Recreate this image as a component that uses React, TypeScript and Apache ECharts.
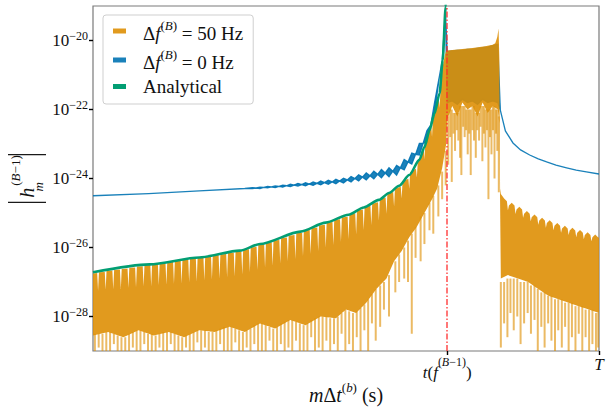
import React, { useEffect, useRef } from 'react';
import * as echarts from 'echarts';

// ---------- data (x = sample index m, T = 200 samples; y = log10 |h|) ----------
const sampleCountT = 200;
const tIndex = 140; // t(f^(B-1))
const yMinExp = -29;
const yMaxExp = -19;
const yTickExps = [-28, -26, -24, -22, -20];
const xTickValues = [140, 200];
const xTickLabels = ['{i|t}{n|(}{i|f}{s|(}{si|B}{s|−1)}{n|)}', '{T|T}'];

const seriesNames = ['Δf(B) = 50 Hz', 'Δf(B) = 0 Hz', 'Analytical'];
const legendLabels = [
  '{n|Δ}{i|f}{s|(}{si|B}{s|)}{n| = 50 Hz}',
  '{n|Δ}{i|f}{s|(}{si|B}{s|)}{n| = 0 Hz}',
  '{n|Analytical}',
];

// Δf = 50 Hz : upper envelope [m, log10|h|] (lobes with narrow nulls)
const orangeTop = [
  [0, -26.75],
  [1.65, -26.74], [2, -27.25], [2.35, -26.72], [4.65, -26.71], [5, -27.22], [5.35, -26.68],
  [7.65, -26.67], [8, -27.21], [8.35, -26.65], [10.65, -26.64], [11, -27.2], [11.35, -26.62],
  [13.65, -26.61], [14, -27.17], [14.35, -26.59], [16.65, -26.58], [17, -27.15], [17.35, -26.55],
  [19.65, -26.54], [20, -27.12], [20.35, -26.52], [22.65, -26.51], [23, -27.12], [23.35, -26.49],
  [25.65, -26.48], [26, -27.09], [26.35, -26.46], [28.65, -26.45], [29, -27.08], [29.35, -26.42],
  [31.65, -26.41], [32, -27.05], [32.35, -26.39], [34.65, -26.38], [35, -27.04], [35.35, -26.36],
  [37.65, -26.35], [38, -27.01], [38.35, -26.33], [40.65, -26.32], [41, -26.99], [41.35, -26.29],
  [43.65, -26.28], [44, -26.96], [44.35, -26.26], [46.65, -26.25], [47, -26.93], [47.35, -26.23],
  [49.65, -26.22], [50, -26.9], [50.35, -26.2], [52.65, -26.19], [53, -26.86], [53.35, -26.16],
  [55.65, -26.15], [56, -26.83], [56.35, -26.13], [58.65, -26.12], [59, -26.79], [59.35, -26.07],
  [61.65, -26.05], [62, -26.72], [62.35, -26.0], [64.65, -25.98], [65, -26.65], [65.35, -25.93],
  [67.65, -25.91], [68, -26.58], [68.35, -25.87], [70.65, -25.85], [71, -26.53], [71.35, -25.8],
  [73.65, -25.78], [74, -26.46], [74.35, -25.73], [76.65, -25.71], [77, -26.4], [77.35, -25.66],
  [79.65, -25.64], [80, -26.33], [80.35, -25.59], [82.65, -25.57], [83, -26.25], [83.35, -25.51],
  [85.65, -25.49], [86, -26.18], [86.35, -25.44], [88.65, -25.42], [89, -26.1], [89.35, -25.36],
  [91.65, -25.34], [92, -26.0], [92.35, -25.28], [94.65, -25.26], [95, -25.93], [95.35, -25.2],
  [97.65, -25.18], [98, -25.83], [98.35, -25.13], [100.65, -25.11], [101, -25.75], [101.35, -25.04],
  [103.65, -25.01], [104, -25.62], [104.35, -24.93], [106.65, -24.9], [107, -25.49], [107.35, -24.83],
  [109.65, -24.79], [110, -25.35], [110.35, -24.73], [112.65, -24.69], [113, -25.22], [113.35, -24.6],
  [115.65, -24.55], [116, -25.02], [116.35, -24.44], [118.65, -24.39], [119, -24.81], [119.35, -24.29],
  [121.65, -24.24], [122, -24.58], [122.35, -24.08], [124.65, -24.01], [125, -24.3], [125.35, -23.82],
  [127.65, -23.72], [128, -23.97], [128.35, -23.55],
  [129, -23.46], [130, -23.28], [130.7, -23.1], [131, -23.45], [131.3, -23.0], [132, -22.86],
  [133, -22.64], [133.7, -22.45], [134, -22.8], [134.3, -22.35], [135, -22.13], [136, -21.85],
  [136.7, -21.7], [137, -21.95], [137.3, -21.5], [138, -20.85], [139, -20.45], [139.6, -20.3],
  [140, -20.29], [145, -20.25], [150, -20.22], [155, -20.17], [157, -20.14], [158, -20.12],
  [159, -20.08], [159.8, -19.9], [160.3, -19.65], [160.6, -20.5], [160.9, -24.3],
  [161.2, -24.45], [162.5, -24.58], [163.6, -24.66], [164, -24.92], [164.4, -24.78], [165.5, -24.7],
  [166.6, -24.78], [167, -25.03], [167.4, -24.9], [168.5, -24.82], [169.6, -24.9], [170, -25.14],
  [170.4, -25.02], [171.5, -24.94], [172.6, -25.02], [173, -25.24], [173.4, -25.12], [174.5, -25.04],
  [175.6, -25.12], [176, -25.34], [176.4, -25.22], [177.5, -25.14], [178.6, -25.22], [179, -25.43],
  [179.4, -25.29], [180.5, -25.21], [181.6, -25.29], [182, -25.5], [182.4, -25.37], [183.5, -25.29],
  [184.6, -25.37], [185, -25.57], [185.4, -25.45], [186.5, -25.37], [187.6, -25.45], [188, -25.64],
  [188.4, -25.51], [189.5, -25.43], [190.6, -25.51], [191, -25.7], [191.4, -25.57], [192.5, -25.49],
  [193.6, -25.57], [194, -25.76], [194.4, -25.64], [195.5, -25.56], [196.6, -25.64], [197, -25.82],
  [197.4, -25.7], [198.5, -25.62], [199.6, -25.7], [200, -25.72],
];
// Δf = 50 Hz : lower edge of the solid band [m, log10|h|]
const orangeBase = [
  [0, -28.55], [6, -28.45], [12, -28.6], [18, -28.4], [24, -28.55], [30, -28.45], [36, -28.6],
  [42, -28.4], [48, -28.45], [54, -28.3], [60, -28.45], [66, -28.2], [72, -28.35], [78, -28.1],
  [84, -28.25], [90, -28.0], [96, -28.05], [100, -27.8], [104, -27.9], [108, -27.6], [112, -27.2],
  [116, -26.9], [119, -26.4], [122, -26.1], [125, -25.7], [128, -25.4], [131, -25.0], [134, -24.6],
  [136, -24.3], [138, -23.7], [139.6, -23.0],
  [140, -22.3], [142, -21.9], [144, -22.2], [146, -21.8], [148, -22.0], [150, -21.9], [152, -22.2],
  [154, -21.8], [156, -22.1], [158, -21.9], [160, -22.0], [160.6, -22.4],
  [161.2, -26.9], [164, -26.8], [168, -26.9], [172, -27.0], [176, -27.2], [180, -27.4], [184, -27.5],
  [188, -27.6], [192, -27.7], [196, -27.8], [200, -27.9],
];
// Δf = 50 Hz : thin strands below the solid band [m, from, to]
const orangeStrands = [
  [0.75, -28.5, -29.2], [2.25, -28.5, -28.9], [3.75, -28.5, -29.2], [5.25, -28.45, -29.0], [6.75, -28.45, -29.2],
  [8.25, -28.5, -28.8], [9.75, -28.55, -29.1], [11.25, -28.6, -29.2], [12.75, -28.6, -29.0], [14.25, -28.5, -29.2],
  [15.75, -28.45, -28.9], [17.25, -28.4, -29.2], [18.75, -28.4, -29.05], [20.25, -28.45, -28.8], [21.75, -28.5, -29.2],
  [23.25, -28.5, -29.0], [24.75, -28.55, -29.2], [26.25, -28.5, -28.9], [27.75, -28.45, -29.2], [29.25, -28.45, -29.05],
  [30.75, -28.45, -28.8], [32.25, -28.5, -29.2], [33.75, -28.55, -29.0], [35.25, -28.6, -29.2], [36.75, -28.55, -28.9],
  [38.25, -28.5, -29.2], [39.75, -28.45, -29.05], [41.25, -28.4, -28.75], [42.75, -28.4, -29.2], [44.25, -28.4, -28.9],
  [45.75, -28.45, -29.2], [47.25, -28.45, -29.0], [48.75, -28.4, -29.2], [50.25, -28.35, -28.8], [51.75, -28.3, -29.2],
  [53.25, -28.3, -29.0], [54.75, -28.3, -29.2], [56.25, -28.35, -28.75], [57.75, -28.4, -29.1], [59.25, -28.45, -29.2],
  [60.75, -28.4, -28.9], [62.25, -28.35, -29.2], [63.75, -28.25, -28.8], [65.25, -28.2, -29.2], [66.75, -28.2, -29.0],
  [68.25, -28.25, -29.2], [69.75, -28.3, -28.7], [71.25, -28.35, -29.1], [72.75, -28.3, -29.2], [74.25, -28.2, -28.8],
  [75.75, -28.15, -29.2], [77.25, -28.1, -28.9], [78.75, -28.1, -29.2], [80.25, -28.15, -28.7], [81.75, -28.2, -29.2],
  [83.25, -28.25, -29.0], [84.75, -28.2, -29.2], [86.25, -28.1, -28.6], [87.75, -28.05, -29.2], [89.25, -28.0, -28.9],
  [90.75, -28.0, -29.2], [92.25, -28.0, -28.7], [93.75, -28.05, -29.1], [95.25, -28.05, -28.8], [96.75, -28.0, -29.2],
  [98.25, -27.9, -28.5], [99.75, -27.8, -29.2], [101.25, -27.85, -28.8], [102.75, -27.9, -29.2], [104.25, -27.85, -28.6],
  [105.75, -27.75, -29.0], [107.25, -27.65, -28.4], [108.75, -27.5, -29.2], [110.25, -27.35, -28.2], [111.75, -27.2, -28.7],
  [113.5, -27.1, -28.3], [115, -27.0, -27.8], [117, -26.8, -28.0], [119.5, -26.4, -27.3], [121, -26.2, -27.0],
  [123, -26.0, -26.9], [124.5, -25.8, -27.0], [126, -25.6, -28.5], [127.5, -25.4, -26.3], [129.5, -25.1, -26.4],
  [131, -25.0, -25.9], [133, -24.7, -25.5], [134.5, -24.5, -25.6], [136.5, -24.2, -25.1], [138, -23.8, -24.6],
  [139.4, -23.2, -24.2],
  [140.4, -22.2, -23.6], [141.2, -22.0, -22.8], [141.8, -22.0, -24.1], [142.5, -22.1, -22.7], [143.1, -22.1, -23.2],
  [143.8, -22.1, -22.6], [144.4, -22.1, -22.9], [145.1, -21.9, -23.4], [145.6, -21.9, -23.9], [146.3, -21.9, -22.5],
  [146.9, -21.9, -22.8], [147.5, -22.0, -22.6], [148.1, -22.0, -23.3], [148.7, -22.0, -22.7], [149.3, -22.0, -23.9],
  [150, -21.9, -22.6], [150.6, -21.9, -22.9], [151.3, -22.1, -23.4], [151.9, -22.1, -22.6], [152.6, -22.1, -22.9],
  [153.2, -21.9, -22.5], [153.9, -21.9, -23.5], [154.5, -21.9, -22.7], [155.1, -22.0, -23.1], [155.7, -22.0, -22.6],
  [156.3, -22.0, -24.6], [156.9, -22.0, -22.8], [157.5, -22.0, -23.3], [158.1, -21.9, -22.6], [158.7, -21.9, -24.0],
  [159.3, -22.0, -22.7], [159.8, -22.0, -23.2], [160.4, -22.2, -24.4],
  [161.2, -27.0, -28.9], [162.5, -27.0, -28.2], [163.8, -26.9, -28.6], [165, -26.9, -27.9], [166.3, -26.9, -28.4],
  [167.7, -26.9, -28.0], [169, -27.0, -28.8], [170.4, -27.0, -28.2], [171.8, -27.0, -27.9], [173.1, -27.1, -28.5],
  [174.5, -27.1, -28.1], [175.8, -27.2, -29.0], [177.2, -27.3, -28.3], [178.5, -27.3, -28.9], [179.9, -27.4, -28.2],
  [181.2, -27.4, -28.7], [182.6, -27.5, -29.1], [183.9, -27.5, -28.4], [185.3, -27.5, -28.9], [186.6, -27.6, -28.3],
  [188, -27.6, -29.1], [189.3, -27.6, -28.6], [190.7, -27.7, -29.1], [192, -27.7, -28.5], [193.4, -27.7, -29.0],
  [194.7, -27.8, -28.6], [196.1, -27.8, -29.1], [197.4, -27.8, -28.8], [198.8, -27.9, -29.1], [199.7, -27.9, -28.9],
];

// Δf = 0 Hz : [m, lower, upper]
const blueBand = [
  [0, -24.5, -24.5], [22, -24.44, -24.44], [42, -24.36, -24.36], [60, -24.29, -24.29],
  [63, -24.295, -24.265], [64.5, -24.275, -24.275], [66, -24.29, -24.25], [67.5, -24.26, -24.26],
  [69, -24.27, -24.23], [70.5, -24.245, -24.245], [72, -24.265, -24.215], [73.5, -24.23, -24.23],
  [75, -24.25, -24.19], [76.5, -24.21, -24.21], [78, -24.235, -24.165], [79.5, -24.19, -24.19],
  [81, -24.22, -24.14], [82.5, -24.175, -24.175], [84, -24.215, -24.125], [85.5, -24.16, -24.16],
  [87, -24.2, -24.1], [88.5, -24.14, -24.14], [90, -24.185, -24.075], [91.5, -24.12, -24.12],
  [93, -24.17, -24.05], [94.5, -24.1, -24.1], [96, -24.155, -24.025], [97.5, -24.075, -24.075],
  [99, -24.13, -23.99], [100.5, -24.04, -24.04], [102, -24.1, -23.94], [103.5, -24.0, -24.0],
  [105, -24.07, -23.89], [106.5, -23.96, -23.96], [108, -24.04, -23.84], [109.5, -23.92, -23.92],
  [111, -24.01, -23.79], [112.5, -23.88, -23.88], [114, -23.98, -23.74], [115.5, -23.84, -23.84],
  [117, -23.95, -23.69], [118.5, -23.79, -23.79], [120, -23.9, -23.62], [121.5, -23.69, -23.69],
  [123, -23.75, -23.45], [124.5, -23.52, -23.52], [126, -23.58, -23.26], [127.5, -23.3, -23.3],
  [129, -23.32, -22.98], [130.5, -22.98, -22.98], [132, -22.95, -22.61], [133.5, -22.45, -22.45],
  [135, -22.1, -21.8], [137, -21.0, -21.0], [138, -20.6, -20.6], [139.3, -19.2, -19.2],
  [140, -21.8, -20.32], [142, -21.75, -20.3], [144, -21.85, -20.29], [146, -21.7, -20.28],
  [148, -21.8, -20.26], [150, -21.75, -20.25], [152, -21.85, -20.23], [154, -21.7, -20.21],
  [156, -21.8, -20.19], [158, -21.75, -20.15], [160, -21.8, -20.11],
  [161, -22.02, -22.02], [163, -22.62, -22.62], [166, -22.97, -22.97], [169, -23.17, -23.17],
  [172.6, -23.32, -23.32], [176, -23.43, -23.43], [179.3, -23.52, -23.52], [183, -23.61, -23.61],
  [187.2, -23.69, -23.69], [191, -23.76, -23.76], [195, -23.81, -23.81], [200, -23.87, -23.87],
];

// Analytical curve
const analyticalM = [0, 22.4, 42, 58, 66, 82, 92, 101, 107, 113, 117, 121, 125, 129, 131, 133, 135, 137, 138.2, 139.4, 139.8];
const analyticalLog = [-26.72, -26.49, -26.29, -26.09, -25.9, -25.54, -25.28, -25.05, -24.84, -24.62, -24.42, -24.21, -23.9, -23.46, -23.09, -22.6, -22.11, -21.53, -20.58, -19.02, -18.5];

// ---------- styling ----------
const FONT = 'Liberation Serif, serif';
const TXT = '#111111';
const ORANGE = 'rgba(222,143,5,0.9)';
const ORANGE_STRAND = 'rgba(222,143,5,0.62)';
const BLUE = 'rgba(1,115,178,0.9)';
const GREEN = '#029E73';
const RED = '#ff2b2b';

function tok(size: number, lh: number, va: string, italic = false, extra: any = {}) {
  return {
    fontFamily: FONT, fontSize: size, lineHeight: lh, verticalAlign: va,
    fontStyle: italic ? 'italic' : 'normal', fontWeight: 'normal', color: TXT, ...extra,
  };
}

function polygonSeries(name: string, top: number[][], bottom: number[][], fill: string, stroke: string | null, lw: number, z: number) {
  return {
    type: 'custom',
    name,
    coordinateSystem: 'cartesian2d',
    clip: true,
    silent: true,
    z,
    itemStyle: { color: fill },
    data: top,
    encode: { x: 0, y: 1 },
    renderItem: (params: any, api: any) => {
      if (params.dataIndex !== 0) return null;
      const up = top.map((r) => api.coord([r[0], r[1]]));
      const down = bottom.slice().reverse().map((r) => api.coord([r[0], r[1]]));
      return {
        type: 'polygon',
        shape: { points: up.concat(down) },
        style: stroke ? { fill, stroke, lineWidth: lw } : { fill },
      };
    },
  };
}

export default function App() {
  const ref = useRef<HTMLDivElement>(null);
  useEffect(() => {
    const chart = echarts.init(ref.current!, null, { renderer: 'svg' });
    const blueTop = blueBand.map((r) => [r[0], r[2]]);
    const blueBottom = blueBand.map((r) => [r[0], r[1]]);
    const option: any = {
      animation: false,
      backgroundColor: '#ffffff',
      textStyle: { fontFamily: FONT, color: TXT, fontStyle: 'normal', fontWeight: 'normal' },
      grid: {
        left: 93, right: 7, top: 6, bottom: 58,
        show: true, borderColor: '#7a7a7a', borderWidth: 1.2, backgroundColor: 'transparent',
        outerBoundsMode: 'none', containLabel: false,
      },
      legend: {
        data: seriesNames.map((n) => ({ name: n })),
        orient: 'vertical',
        left: 103, top: 15,
        padding: [4, 10, 8, 10],
        itemWidth: 25, itemHeight: 5, itemGap: 5,
        icon: 'path://M0,0H13V5H0Z M25,0L25,5',
        itemStyle: { borderWidth: 0 },
        backgroundColor: '#ffffff', borderColor: '#cfcfcf', borderWidth: 1, borderRadius: 3,
        selectedMode: false,
        formatter: (name: string) => legendLabels[seriesNames.indexOf(name)],
        textStyle: {
          fontFamily: FONT, fontSize: 19, color: TXT, fontStyle: 'normal', fontWeight: 'normal',
          rich: {
            n: tok(19, 19, 'bottom'),
            i: tok(19, 19, 'bottom', true),
            s: tok(13, 24, 'top'),
            si: tok(13, 24, 'top', true),
          },
        },
      },
      xAxis: {
        type: 'value', min: 0, max: sampleCountT,
        splitLine: { show: false },
        axisLine: { show: false },
        axisTick: { show: true, customValues: xTickValues, length: 4, lineStyle: { color: '#000', width: 1.4 } },
        axisLabel: {
          customValues: xTickValues, margin: 5, color: TXT, fontFamily: FONT, fontStyle: 'normal', fontWeight: 'normal',
          formatter: (v: number) => xTickLabels[xTickValues.indexOf(v)],
          rich: {
            n: tok(17, 25, 'bottom'),
            i: tok(17, 25, 'bottom', true),
            s: tok(12, 12, 'top'),
            si: tok(12, 12, 'top', true),
            T: tok(17, 17, 'top', true),
          },
        },
        name: '{i|m}{n|Δ}{i|t}{s|(}{si|b}{s|)}{n| (s)}',
        nameLocation: 'middle', nameGap: 30, nameMoveOverlap: false,
        nameTextStyle: {
          fontFamily: FONT, fontStyle: 'normal', fontWeight: 'normal',
          rich: {
            n: tok(20, 24, 'bottom'),
            i: tok(20, 24, 'bottom', true),
            s: tok(13, 13, 'top'),
            si: tok(13, 13, 'top', true),
          },
        },
      },
      yAxis: {
        type: 'value', min: yMinExp, max: yMaxExp,
        splitLine: { show: false },
        axisLine: { show: false },
        axisTick: { show: true, customValues: yTickExps, length: 4, lineStyle: { color: '#000', width: 1.4 } },
        axisLabel: {
          customValues: yTickExps, margin: 5, color: TXT, fontFamily: FONT, fontStyle: 'normal', fontWeight: 'normal',
          formatter: (v: number) => `{b|10}{s|−${Math.abs(v)}}`,
          rich: {
            b: tok(17, 22, 'middle'),
            s: tok(12, 12, 'top'),
          },
        },
        name: '{bar|}{h|h}{sub|m}{sup|(}{supi|B}{sup|−1)}{bar|}',
        nameLocation: 'middle', nameRotate: 90, nameGap: 48, nameMoveOverlap: false,
        nameTextStyle: {
          fontFamily: FONT, fontStyle: 'normal', fontWeight: 'normal',
          rich: {
            bar: { width: 1.3, height: 38, lineHeight: 36, verticalAlign: 'middle', backgroundColor: '#1a1a1a' },
            h: tok(20, 36, 'middle', true, { padding: [0, 0, 0, 4] }),
            sub: tok(13, 13, 'bottom', true, { width: 2 }),
            sup: tok(13, 13, 'top'),
            supi: tok(13, 13, 'top', true),
          },
        },
      },
      series: [
        polygonSeries(seriesNames[1], blueTop, blueBottom, BLUE, BLUE, 1.3, 2),
        {
          type: 'custom',
          name: 'strands',
          coordinateSystem: 'cartesian2d',
          clip: true, silent: true, z: 3,
          data: orangeStrands,
          encode: { x: 0, y: [1, 2] },
          renderItem: (params: any, api: any) => {
            const p1 = api.coord([api.value(0), api.value(1)]);
            const p2 = api.coord([api.value(0), api.value(2)]);
            return {
              type: 'line',
              shape: { x1: p1[0], y1: p1[1], x2: p2[0], y2: p2[1] },
              style: { stroke: ORANGE_STRAND, lineWidth: 2.0 },
            };
          },
        },
        polygonSeries(seriesNames[0], orangeTop, orangeBase, ORANGE, null, 0, 3),
        {
          type: 'line',
          name: seriesNames[2],
          data: analyticalM.map((m, i) => [m, analyticalLog[i]]),
          symbol: 'none', showSymbol: false,
          smooth: 0.25, smoothMonotone: 'x',
          clip: true, silent: true, z: 4,
          lineStyle: { color: GREEN, width: 2.6 },
          itemStyle: { color: GREEN },
          markLine: {
            silent: true,
            symbol: ['none', 'none'],
            label: { show: false },
            lineStyle: { color: RED, width: 1.5, type: [6, 2, 1.5, 2], opacity: 0.85 },
            data: [{ xAxis: tIndex }],
          },
        },
      ],
    };
    chart.setOption(option);
    return () => chart.dispose();
  }, []);
  return <div ref={ref} style={{ position: 'absolute', left: 0, top: 0, width: 606, height: 409 }} />;
}
